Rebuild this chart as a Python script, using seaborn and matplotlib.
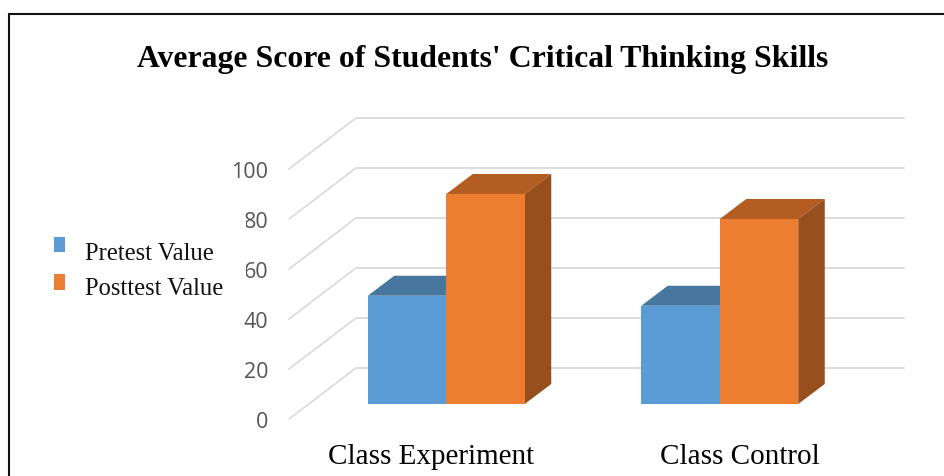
import matplotlib
matplotlib.use("Agg")
import matplotlib.pyplot as plt
from matplotlib.lines import Line2D
from matplotlib.patches import Polygon
import pandas as pd
import seaborn as sns

classes = ["Class Experiment", "Class Control"]
pretest = [43.3, 39.3]
posttest = [84, 74]
series_names = ["Pretest Value", "Posttest Value"]
axis_ticks = [0, 20, 40, 60, 80, 100]
title_text = "Average Score of Students' Critical Thinking Skills"
label_shift_px = [-15, 20]
legend_marker_lift_pt = [3.9, 2.4]

FRONT = ["#5B9BD5", "#ED7D31"]
TOP = ["#47779F", "#B35D22"]
SIDE = ["#3E6A90", "#974F1E"]
GRID = "#D9D9D9"
W, H = 944, 477
SERIF = "Liberation Serif"

sns.set_theme(style="white")
plt.rcParams["font.family"] = ["Liberation Serif", "DejaVu Sans"]
fig = plt.figure(figsize=(W / 100, H / 100), dpi=100, facecolor="white")


def px_axes(left, right, top, bottom):
    return fig.add_axes([left / W, 1 - bottom / H, (right - left) / W, (bottom - top) / H])


# back wall: horizontal gridlines
wall = px_axes(357, 904, 119, 369)
wall.set_ylim(0, 100)
wall.set_xlim(0, 1)
wall.set_yticks(axis_ticks)
wall.set_xticks([])
wall.tick_params(left=False, labelleft=False)
wall.grid(axis="y", color=GRID, lw=1.3, clip_on=False)
for gl in wall.get_ygridlines():
    gl.set_clip_on(False)
wall.patch.set_alpha(0)
sns.despine(ax=wall, left=True, bottom=True)

# floor-side diagonals and the value axis
side = px_axes(289, 356, 170, 420)
side.set_ylim(0, 100)
side.set_xlim(0, 1)
side.set_xticks([])
side.set_yticks(axis_ticks)
side.tick_params(axis="y", length=0, pad=15, labelsize=15.5, labelcolor="#555555")
for lab in side.get_yticklabels():
    lab.set_fontfamily("Open Sans")
rise = 51 / 2.5
for v in axis_ticks:
    side.plot([0, 1], [v, v + rise], color=GRID, lw=1.2, clip_on=False, solid_capstyle="round")
side.patch.set_alpha(0)
sns.despine(ax=side, left=True, bottom=True)

# bars
ax = px_axes(289, 904, 155, 405)
df = pd.DataFrame({
    "cls": classes * 2,
    "series": [series_names[0]] * 2 + [series_names[1]] * 2,
    "val": pretest + posttest,
})
sns.barplot(data=df, x="cls", y="val", hue="series", hue_order=series_names,
            palette=FRONT, width=0.574, gap=0, saturation=1, ax=ax, zorder=3,
            legend=True, linewidth=0)
ax.set_xlim((289 - 446.25) / 273.5, (904 - 446.25) / 273.5)
ax.set_ylim(0, 100)
ax.set_xlabel("")
ax.set_ylabel("")
ax.set_yticks([])
ax.set_xticks([i + s / 273.5 for i, s in enumerate(label_shift_px)], labels=classes)
ax.tick_params(axis="x", length=0, pad=28.3, labelsize=21, labelcolor="black")
ax.patch.set_alpha(0)
sns.despine(ax=ax, left=True, bottom=True)

dx = 26.5 / 273.5
dy = 20 / 2.5
for i, cont in enumerate(ax.containers):
    for bar in cont:
        x0, x1 = bar.get_x(), bar.get_x() + bar.get_width()
        h = bar.get_height()
        ax.add_patch(Polygon([(x0, h), (x1, h), (x1 + dx, h + dy), (x0 + dx, h + dy)],
                             closed=True, fc=TOP[i], ec="none", zorder=2, clip_on=False))
        ax.add_patch(Polygon([(x1, 0), (x1 + dx, dy), (x1 + dx, h + dy), (x1, h)],
                             closed=True, fc=SIDE[i], ec="none", zorder=2, clip_on=False))

handles, labels = ax.get_legend_handles_labels()
ax.get_legend().remove()
fs = 17.7
fs_px = fs * 100 / 72
pad_px = 23
leg = fig.legend(handles, labels, loc="center left",
                 bbox_to_anchor=((54 - pad_px) / W, 1 - 271.5 / H),
                 prop={"family": SERIF, "size": fs}, frameon=True, facecolor="white",
                 edgecolor="none", framealpha=1, fancybox=False, handlelength=11 / fs_px,
                 handleheight=14 / fs_px, handletextpad=20 / fs_px,
                 labelspacing=13 / fs_px, borderpad=pad_px / fs_px, borderaxespad=0)
for handle, lift in zip(leg.legend_handles, legend_marker_lift_pt):
    handle.set_y(handle.get_y() + lift)
for t in leg.get_texts():
    t.set_color("#111111")

fig.text(482.5 / W, 1 - 59 / H, title_text, ha="center", va="center",
         fontfamily=SERIF, fontweight="bold", fontsize=22.85, color="black")

fig.add_artist(Line2D([8.5 / W, 8.5 / W, 1], [0, 1 - 15 / H, 1 - 15 / H],
                      color="#111111", lw=1.5, solid_joinstyle="miter"))

fig.savefig("out.png", dpi=100, facecolor="white")
